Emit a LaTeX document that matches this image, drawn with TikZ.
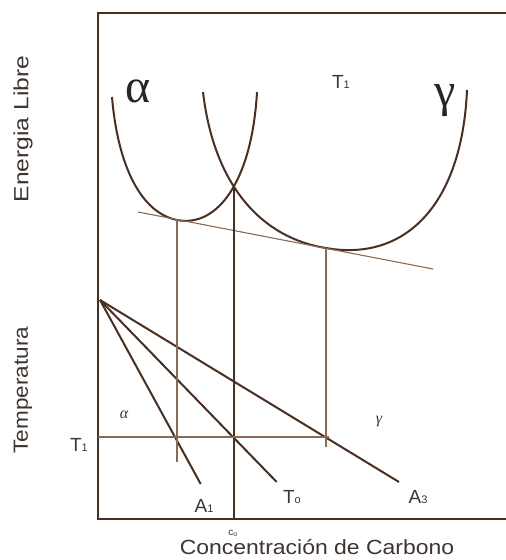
\documentclass[tikz,border=0pt]{standalone}
\usepackage{fontspec}
\setmainfont{Liberation Sans}
\newfontfamily\grk{Liberation Serif}
\usetikzlibrary{intersections}
\definecolor{thickc}{HTML}{4A2E20}
\definecolor{thinc}{HTML}{8A6A52}
\definecolor{txtc}{HTML}{3E3430}
\tikzset{
  heavy/.style={line width=2pt, color=thickc},
  light/.style={line width=1.1pt, color=thinc},
  axlabel/.style={text=txtc, font=\fontsize{20.5}{22}\selectfont, inner sep=0pt},
  lbl/.style={text=txtc, font=\fontsize{19}{21}\selectfont, inner sep=0pt},
  greekbig/.style={text=black!85, font=\grk\fontsize{48}{50}\selectfont, inner sep=0pt},
  greeksmall/.style={text=txtc, font=\grk\itshape\fontsize{16}{18}\selectfont, inner sep=0pt}
}
\newcommand{\Tsub}[2]{#1{\fontsize{11}{11}\selectfont #2}}
\begin{document}
\begin{tikzpicture}[x=1pt,y=-1pt]
\useasboundingbox (0,0) rectangle (506,560);
% frame
\coordinate (tr) at (506,13);
\coordinate (tl) at (98,13);
\coordinate (bl) at (98,519);
\coordinate (br) at (506,519);
\draw[heavy] (tr) -- (tl) -- (bl) -- (br);
% free energy curves
\coordinate (amin) at (177,220);
\coordinate (gmin) at (326,248);
\draw[heavy, name path=alpha] (112,97) .. controls (118,168) and (142,213) .. (amin)
   .. controls (218,228) and (252,180) .. (257,92);
\draw[heavy, name path=gamma] (203,92) .. controls (214,186) and (262,238) .. (gmin)
   .. controls (405,262) and (462,205) .. (467,90);
\path[name intersections={of=alpha and gamma, by={cross}}];
% common tangent
\coordinate (tanA) at (138,212);
\coordinate (tanB) at (433,269);
\draw[light] (tanA) -- (tanB);
% lower diagram
\coordinate (apex) at (100,300);
\coordinate (eA1) at (200.7,484);
\coordinate (eT0) at (276.7,482);
\coordinate (eA3) at (399,482);
\draw[heavy] (apex) -- (eA1);
\draw[heavy] (apex) -- (eT0);
\draw[heavy] (apex) -- (eA3);
% verticals and T1 line
\coordinate (vA) at (amin |- 0,462);
\coordinate (vC) at (cross |- bl);
\coordinate (vG) at (gmin |- 0,447);
\draw[light] (amin) -- (vA);
\draw[light] (gmin) -- (vG);
\draw[heavy, line width=1.6pt] (cross) -- (vC);
\coordinate (hL) at (98,437);
\coordinate (hR) at (329,437);
\draw[light] (hL) -- (hR);
% labels
\node[axlabel, rotate=90] (lEL) at (23,129) {\scalebox{1.2}[1]{Energia Libre}};
\node[axlabel, rotate=90] (lTe) at (23,390) {\scalebox{1.1}[1]{Temperatura}};
\node[axlabel, anchor=base] (lCC) at (317,554) {\scalebox{1.12}[1]{Concentración de Carbono}};
\node[greekbig, anchor=base] (ga) at (138,102) {α};
\node[greekbig, anchor=base] (gg) at (445,106) {γ};
\node[lbl, anchor=base] (t1u) at (341,88) {\Tsub{T}{1}};
\node[lbl, anchor=base] (t1l) at (79,451) {\Tsub{T}{1}};
\node[greeksmall, anchor=base] (sa) at (124,418) {α};
\node[greeksmall, anchor=base] (sg) at (379,423) {γ};
\node[lbl, anchor=base] (lA1) at (204,512) {\Tsub{A}{1}};
\node[lbl, anchor=base] (lT0) at (292,503) {\Tsub{T}{o}};
\node[lbl, anchor=base] (lA3) at (418,503) {\Tsub{A}{3}};
\node[text=txtc, font=\fontsize{10}{10}\selectfont, anchor=base, inner sep=0pt] (lc0) at (233,535) {c\textsubscript{o}};
\end{tikzpicture}
\end{document}
